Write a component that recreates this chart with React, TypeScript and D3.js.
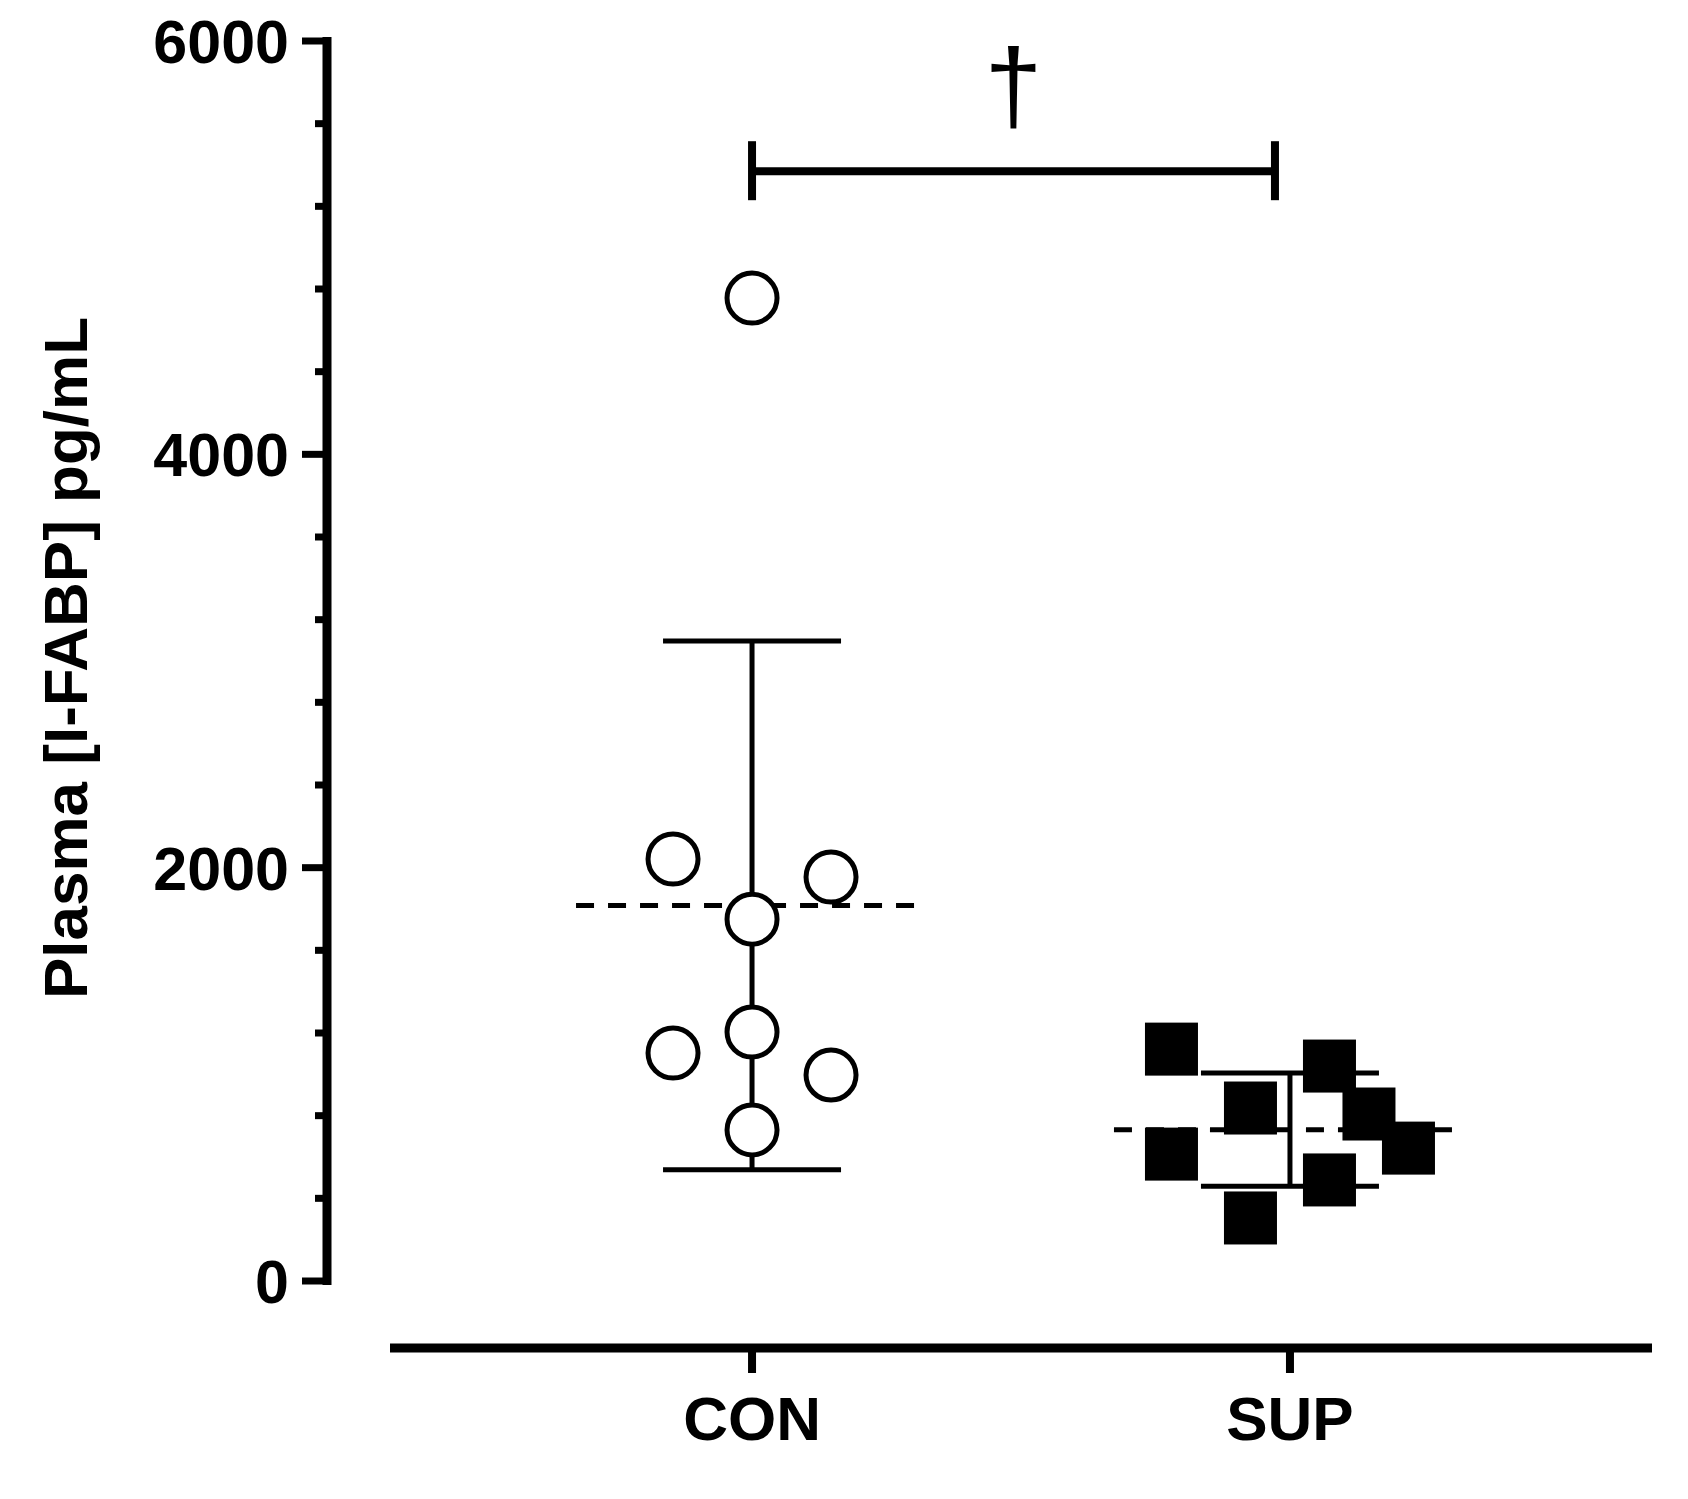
import React, { useEffect, useRef } from "react";
import * as d3 from "d3";

// groups on the x axis
const groups = ["CON", "SUP"];

// plasma I-FABP, pg/mL
const conValues = [4756, 2042, 1955, 1751, 1205, 1103, 997, 731];
const supValues = [1122, 837, 614, 305, 1040, 808, 643, 489];

// horizontal scatter slot of each point (GraphPad style spreading)
const conSlots = [0, -2, 2, 0, 0, -2, 2, 0];
const supSlots = [-3, -1, -3, -1, 1, 2, 3, 1];

const yMajorTicks = [0, 2000, 4000, 6000];
const yMax = 6000;
const minorStep = 400;
const bracketLevel = 5370;

const yTitle = "Plasma [I-FABP] pg/mL";
const sigMark = "\u2020";

const W = 1688;
const H = 1499;
const FONT = "'Liberation Sans', Arial, Helvetica, sans-serif";

export default function App() {
  const ref = useRef<SVGSVGElement>(null);

  useEffect(() => {
    drawChart();
  }, []);

  function drawChart() {
    const svg = d3.select(ref.current);
    svg.selectAll("*").remove();

    const y = d3.scaleLinear().domain([0, yMax]).range([1281, 41]);
    const x = d3.scalePoint<string>().domain(groups).range([390, 1652]).padding(0.673);
    const axisX = 327;
    const axisY = 1348;
    const slotW = 39.5;

    // y axis
    svg.append("line")
      .attr("x1", axisX).attr("x2", axisX)
      .attr("y1", y(yMax) - 4).attr("y2", y(0) + 4)
      .attr("stroke", "#000").attr("stroke-width", 9);

    svg.selectAll(".ymajor")
      .data(yMajorTicks)
      .join("line")
      .attr("x1", axisX - 25).attr("x2", axisX)
      .attr("y1", d => y(d)).attr("y2", d => y(d))
      .attr("stroke", "#000").attr("stroke-width", 7);

    const minor = d3.range(0, yMax, minorStep).filter(v => v % 2000 !== 0);
    svg.selectAll(".yminor")
      .data(minor)
      .join("line")
      .attr("x1", axisX - 12).attr("x2", axisX)
      .attr("y1", d => y(d)).attr("y2", d => y(d))
      .attr("stroke", "#000").attr("stroke-width", 7);

    svg.selectAll(".ylabel")
      .data(yMajorTicks)
      .join("text")
      .attr("x", 289)
      .attr("y", d => y(d))
      .attr("dy", "0.36em")
      .attr("text-anchor", "end")
      .style("font", `bold 61px ${FONT}`)
      .text(d => d);

    svg.append("text")
      .attr("transform", `translate(87,${(y(0) + y(yMax)) / 2 - 3}) rotate(-90)`)
      .attr("text-anchor", "middle")
      .style("font", `bold 62px ${FONT}`)
      .text(yTitle);

    // x axis
    svg.append("line")
      .attr("x1", 390).attr("x2", 1652)
      .attr("y1", axisY).attr("y2", axisY)
      .attr("stroke", "#000").attr("stroke-width", 9);

    svg.selectAll(".xtick")
      .data(groups)
      .join("line")
      .attr("x1", d => x(d)!).attr("x2", d => x(d)!)
      .attr("y1", axisY).attr("y2", axisY + 25)
      .attr("stroke", "#000").attr("stroke-width", 8);

    svg.selectAll(".xlabel")
      .data(groups)
      .join("text")
      .attr("x", d => x(d)!)
      .attr("y", 1440)
      .attr("text-anchor", "middle")
      .style("font", `bold 62px ${FONT}`)
      .text(d => d);

    // mean +/- SD and dashed mean line
    const sets = [
      { name: "CON", values: conValues, slots: conSlots },
      { name: "SUP", values: supValues, slots: supSlots },
    ];

    sets.forEach(s => {
      const cx = x(s.name)!;
      const m = d3.mean(s.values)!;
      const sd = d3.deviation(s.values)!;
      const g = svg.append("g");

      g.append("line")
        .attr("x1", cx).attr("x2", cx)
        .attr("y1", y(m + sd)).attr("y2", y(m - sd))
        .attr("stroke", "#000").attr("stroke-width", 5);

      g.selectAll(".cap")
        .data([m + sd, m - sd])
        .join("line")
        .attr("x1", cx - 89).attr("x2", cx + 89)
        .attr("y1", d => y(d)).attr("y2", d => y(d))
        .attr("stroke", "#000").attr("stroke-width", 5);

      g.append("line")
        .attr("x1", cx - 176).attr("x2", cx + 172)
        .attr("y1", y(m)).attr("y2", y(m))
        .attr("stroke", "#000").attr("stroke-width", 5)
        .attr("stroke-dasharray", "18 14");
    });

    // points
    svg.selectAll(".con")
      .data(conValues)
      .join("circle")
      .attr("cx", (d, i) => x("CON")! + conSlots[i] * slotW)
      .attr("cy", d => y(d))
      .attr("r", 25)
      .attr("fill", "#fff")
      .attr("stroke", "#000")
      .attr("stroke-width", 5);

    const sq = 53;
    svg.selectAll(".sup")
      .data(supValues)
      .join("rect")
      .attr("x", (d, i) => x("SUP")! + supSlots[i] * slotW - sq / 2)
      .attr("y", d => y(d) - sq / 2)
      .attr("width", sq)
      .attr("height", sq)
      .attr("fill", "#000");

    // significance bracket
    const bx1 = x("CON")!;
    const bx2 = x("SUP")! - 15;
    const by = y(bracketLevel);
    svg.append("line")
      .attr("x1", bx1).attr("x2", bx2)
      .attr("y1", by).attr("y2", by)
      .attr("stroke", "#000").attr("stroke-width", 8);
    svg.selectAll(".bcap")
      .data([bx1, bx2])
      .join("line")
      .attr("x1", d => d).attr("x2", d => d)
      .attr("y1", by - 30).attr("y2", by + 29)
      .attr("stroke", "#000").attr("stroke-width", 8);
    svg.append("text")
      .attr("x", (bx1 + bx2) / 2)
      .attr("y", 121)
      .attr("text-anchor", "middle")
      .style("font", `104px ${FONT}`)
      .text(sigMark);
  }

  return (
    <svg
      ref={ref}
      width={W}
      height={H}
      style={{ position: "absolute", left: 0, top: 0, background: "#fff" }}
    />
  );
}
